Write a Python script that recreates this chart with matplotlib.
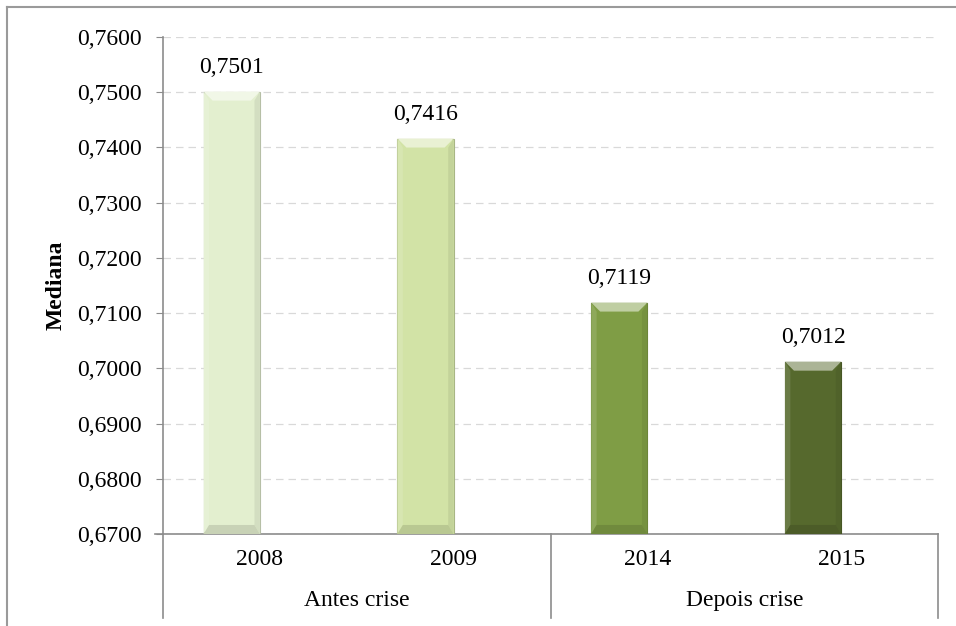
import matplotlib
matplotlib.use('Agg')
import matplotlib.pyplot as plt
from matplotlib.patches import Polygon
from matplotlib.lines import Line2D
from matplotlib.ticker import FuncFormatter, MultipleLocator
import matplotlib.colors as mcolors

plt.rcParams['font.family'] = ['Liberation Serif', 'DejaVu Serif']

years = ['2008', '2009', '2014', '2015']
groups = ['Antes crise', 'Depois crise']
medians = [0.7501, 0.7416, 0.7119, 0.7012]
colors = ['#e3efcf', '#d2e3a6', '#7f9d45', '#56692d']

fs = 17

fig = plt.figure(figsize=(9.56, 6.26), dpi=100)
ax = fig.add_axes([0.1705, 0.147, 0.8107, 0.794])

ymin, ymax = 0.67, 0.76
bw = 0.29
ax.set_xlim(-0.5, 3.5)
ax.set_ylim(ymin, ymax)

# pixel -> data scale for the bevel edges
px_x = 4.0 / 775
px_y = (ymax - ymin) / 497
bev = 9


def shade(c, f):
    r, g, b = mcolors.to_rgb(c)
    if f > 0:
        return (r + (1 - r) * f, g + (1 - g) * f, b + (1 - b) * f)
    return (r * (1 + f), g * (1 + f), b * (1 + f))


for i, (v, c) in enumerate(zip(medians, colors)):
    x0 = i - bw
    x1 = i
    ax.bar(i - bw / 2, v - ymin, bottom=ymin, width=bw, color=c,
           edgecolor=shade(c, -0.2), linewidth=0.8, zorder=3)
    dx, dy = bev * px_x, bev * px_y
    # bevelled top / sides / bottom
    ax.add_patch(Polygon([(x0, v), (x1, v), (x1 - dx, v - dy), (x0 + dx, v - dy)],
                         closed=True, facecolor=shade(c, 0.5), edgecolor='none', zorder=4))
    ax.add_patch(Polygon([(x0, v), (x0 + dx * 0.6, v - dy), (x0 + dx * 0.6, ymin + dy), (x0, ymin)],
                         closed=True, facecolor=shade(c, 0.12), edgecolor='none', zorder=4))
    ax.add_patch(Polygon([(x1, v), (x1 - dx * 0.6, v - dy), (x1 - dx * 0.6, ymin + dy), (x1, ymin)],
                         closed=True, facecolor=shade(c, -0.07), edgecolor='none', zorder=4))
    ax.add_patch(Polygon([(x0, ymin), (x1, ymin), (x1 - dx * 0.6, ymin + dy), (x0 + dx * 0.6, ymin + dy)],
                         closed=True, facecolor=shade(c, -0.12), edgecolor='none', zorder=4))
    ax.annotate(f'{v:.4f}'.replace('.', ','), (i - bw / 2, v), xytext=(0, 10),
                textcoords='offset points', ha='center', va='bottom', fontsize=fs)

ax.yaxis.set_major_locator(MultipleLocator(0.01))
ax.yaxis.set_major_formatter(FuncFormatter(lambda y, _: f'{y:.4f}'.replace('.', ',')))
ax.tick_params(axis='y', labelsize=fs, direction='out', length=5, color='#8c8c8c', pad=10)
ax.set_xticks([])
ax.grid(axis='y', color='#d9d9d9', linestyle=(0, (6, 4)), linewidth=0.9, zorder=0)
ax.set_axisbelow(True)

for s in ['top', 'right']:
    ax.spines[s].set_visible(False)
ax.spines['left'].set_color('#8c8c8c')
ax.spines['bottom'].set_color('#8c8c8c')
ax.spines['left'].set_linewidth(1.2)
ax.spines['bottom'].set_linewidth(1.2)

ax.set_ylabel('Mediana', fontsize=fs, fontweight='bold', labelpad=8)

# two-level category axis
tr = ax.get_xaxis_transform()
for i, y in enumerate(years):
    ax.text(i, -0.052, y, transform=tr, ha='center', va='center', fontsize=fs)
for j, g in enumerate(groups):
    ax.text(0.5 + 2 * j, -0.133, g, transform=tr, ha='center', va='center', fontsize=fs)
for xs in [-0.5, 1.5, 3.5]:
    ax.plot([xs, xs], [0, -0.169], transform=tr, color='#8c8c8c', lw=1.2, clip_on=False)
ax.plot([-0.54, -0.5], [0, 0], transform=tr, color='#8c8c8c', lw=1.2, clip_on=False)

# outer chart frame
fy = 1 - 7 / 626
fx = 7 / 956
fig.add_artist(Line2D([fx, 1], [fy, fy], color='#9a9a9a', lw=1.5))
fig.add_artist(Line2D([fx, fx], [0, fy], color='#9a9a9a', lw=1.5))

plt.savefig('out.png', dpi=100)
